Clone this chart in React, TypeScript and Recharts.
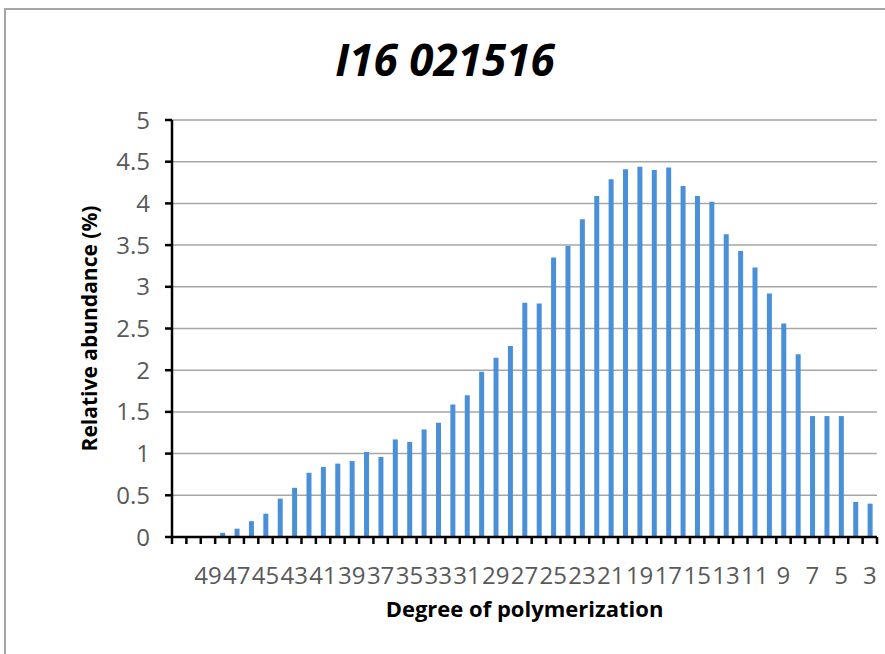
import { BarChart, Bar, XAxis, YAxis, CartesianGrid } from "recharts";

// degree of polymerization, left to right as in the original (descending)
const DP = [
  51, 50, 49, 48, 47, 46, 45, 44, 43, 42, 41, 40, 39, 38, 37, 36, 35, 34, 33, 32, 31, 30, 29, 28, 27,
  26, 25, 24, 23, 22, 21, 20, 19, 18, 17, 16, 15, 14, 13, 12, 11, 10, 9, 8, 7, 6, 5, 4, 3,
];

// relative abundance (%)
const ABUNDANCE = [
  0, 0, 0, 0.05, 0.1, 0.19, 0.28, 0.46, 0.59, 0.77, 0.84, 0.88, 0.91, 1.02, 0.96, 1.17, 1.14, 1.29,
  1.37, 1.59, 1.7, 1.98, 2.15, 2.29, 2.81, 2.8, 3.35, 3.49, 3.81, 4.09, 4.29, 4.41, 4.44, 4.4, 4.43,
  4.21, 4.09, 4.02, 3.63, 3.43, 3.23, 2.92, 2.56, 2.19, 1.45, 1.45, 1.45, 0.42, 0.4,
];

const Y_TICKS = [0, 0.5, 1, 1.5, 2, 2.5, 3, 3.5, 4, 4.5, 5];

// only every other category gets a label
const LABELED_DP = [
  49, 47, 45, 43, 41, 39, 37, 35, 33, 31, 29, 27, 25, 23, 21, 19, 17, 15, 13, 11, 9, 7, 5, 3,
];

const FONT = "'Open Sans', sans-serif";

const data = DP.map((dp, i) => ({ dp, value: ABUNDANCE[i] }));

function DpTick(props: any) {
  const { x, y, payload, index, visibleTicksCount, width } = props;
  const half = payload?.offset ? payload.offset : width / visibleTicksCount / 2;
  const value = payload.value;
  return (
    <g>
      <line x1={x - half} x2={x - half} y1={y - 7} y2={y} stroke="#000" strokeWidth={2.5} />
      {index === visibleTicksCount - 1 && (
        <line x1={x + half} x2={x + half} y1={y - 7} y2={y} stroke="#000" strokeWidth={2.5} />
      )}
      {LABELED_DP.includes(value) && (
        <text x={x} y={y + 40} textAnchor="middle" fill="#595959" fontSize={24} fontFamily={FONT}>
          {value}
        </text>
      )}
    </g>
  );
}

export default function App() {
  return (
    <div
      style={{
        position: "absolute",
        left: 0,
        top: 0,
        width: 885,
        height: 654,
        background: "#fff",
        fontFamily: FONT,
      }}
    >
      <div
        style={{
          position: "absolute",
          left: 4,
          top: 8,
          right: 0,
          bottom: 0,
          borderTop: "2px solid #a6a6a6",
          borderLeft: "2px solid #a6a6a6",
        }}
      />
      <div
        style={{
          position: "absolute",
          left: 0,
          top: 37,
          width: 890,
          textAlign: "center",
          fontSize: 44,
          lineHeight: "44px",
          fontWeight: 700,
          fontStyle: "italic",
          color: "#000",
        }}
      >
        I16 021516
      </div>
      <BarChart
        width={885}
        height={654}
        data={data}
        margin={{ top: 120, right: 8, bottom: 0, left: 8 }}
        barSize={5}
      >
        <CartesianGrid vertical={false} stroke="#a6a6a6" strokeWidth={1.5} />
        <XAxis
          dataKey="dp"
          type="category"
          interval={0}
          height={117}
          tickSize={7}
          tickMargin={0}
          tickLine={false}
          axisLine={{ stroke: "#000", strokeWidth: 2.5 }}
          tick={<DpTick />}
          label={{
            value: "Degree of polymerization",
            position: "insideBottom",
            offset: 37,
            fill: "#000",
            fontSize: 22,
            fontWeight: 700,
            fontFamily: FONT,
          }}
        />
        <YAxis
          width={164}
          domain={[0, 5]}
          ticks={Y_TICKS}
          interval={0}
          tickSize={7}
          tickMargin={15}
          tickLine={{ stroke: "#000", strokeWidth: 2.5 }}
          axisLine={{ stroke: "#000", strokeWidth: 2.5 }}
          tick={{ fill: "#595959", fontSize: 24, fontFamily: FONT }}
          label={{
            value: "Relative abundance (%)",
            angle: -90,
            position: "center",
            fill: "#000",
            fontSize: 21,
            fontWeight: 700,
            fontFamily: FONT,
          }}
        />
        <Bar dataKey="value" fill="#4a90d9" isAnimationActive={false} />
      </BarChart>
    </div>
  );
}
